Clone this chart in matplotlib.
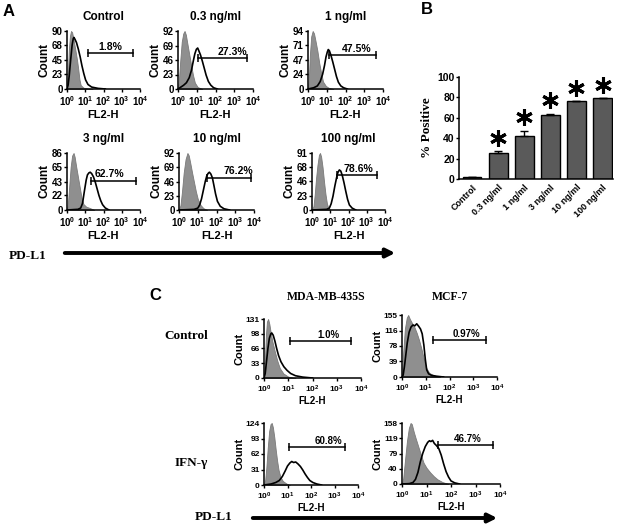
import numpy as np
import matplotlib
matplotlib.use('Agg')
import matplotlib.pyplot as plt
from matplotlib.ticker import NullLocator

plt.rcParams['font.family'] = 'Liberation Sans'
plt.rcParams['font.weight'] = 'bold'
plt.rcParams['mathtext.fontset'] = 'custom'
plt.rcParams['mathtext.rm'] = 'Liberation Sans:bold'
plt.rcParams['mathtext.bf'] = 'Liberation Sans:bold'
plt.rcParams['mathtext.it'] = 'Liberation Sans:bold'

# ---- data (x in log10 decades of FL2-H, y = count) ----
# A: IFN-gamma dose series
ctrl_gray_u = [0, 0.05, 0.1, 0.16, 0.22, 0.28, 0.35, 0.45, 0.55, 0.62, 0.68, 0.75, 0.9, 1.1, 1.4]
ctrl_gray_c = [0, 25, 60, 82, 90, 88, 78, 62, 45, 30, 15, 6, 2, 1, 0]
ctrl_black_u = [0, 0.06, 0.12, 0.2, 0.28, 0.34, 0.38, 0.44, 0.52, 0.62, 0.72, 0.82, 0.92, 1.02, 1.15, 1.35, 1.7, 2.1]
ctrl_black_c = [0, 6, 20, 45, 68, 78, 80, 77, 72, 62, 50, 36, 24, 14, 7, 3, 1, 0]

d03_gray_u = [0, 0.05, 0.12, 0.2, 0.28, 0.35, 0.42, 0.5, 0.6, 0.7, 0.8, 0.9, 1.05, 1.3]
d03_gray_c = [0, 15, 45, 75, 88, 92, 86, 72, 55, 38, 22, 10, 3, 0]
d03_black_u = [0, 0.15, 0.3, 0.45, 0.6, 0.72, 0.82, 0.9, 0.98, 1.05, 1.12, 1.2, 1.3, 1.4, 1.5, 1.62, 1.75, 1.9, 2.1]
d03_black_c = [0, 3, 6, 10, 18, 30, 45, 56, 63, 65, 60, 54, 44, 33, 22, 12, 6, 2, 0]

d1_gray_u = [0, 0.05, 0.1, 0.17, 0.25, 0.32, 0.4, 0.5, 0.6, 0.7, 0.8, 0.95, 1.1, 1.35]
d1_gray_c = [0, 20, 55, 85, 94, 90, 78, 62, 42, 26, 12, 5, 2, 0]
d1_black_u = [0, 0.3, 0.5, 0.65, 0.78, 0.88, 0.96, 1.03, 1.08, 1.14, 1.22, 1.32, 1.42, 1.52, 1.62, 1.75, 1.9, 2.1]
d1_black_c = [0, 2, 5, 12, 24, 38, 52, 60, 64, 62, 55, 44, 32, 20, 11, 5, 2, 0]

d3_gray_u = [0, 0.05, 0.12, 0.2, 0.28, 0.36, 0.42, 0.5, 0.6, 0.7, 0.8, 0.9, 1.05, 1.25, 1.5]
d3_gray_c = [0, 10, 35, 65, 82, 86, 80, 66, 50, 34, 18, 9, 5, 3, 0]
d3_black_u = [0, 0.6, 0.75, 0.85, 0.95, 1.05, 1.12, 1.2, 1.27, 1.35, 1.45, 1.55, 1.65, 1.75, 1.85, 1.95, 2.1, 2.3]
d3_black_c = [0, 1, 3, 10, 28, 45, 53, 56, 57, 55, 50, 42, 32, 22, 14, 8, 3, 0]

d10_gray_u = [0, 0.08, 0.16, 0.25, 0.35, 0.45, 0.52, 0.6, 0.7, 0.8, 0.9, 1.0, 1.15, 1.3, 1.5]
d10_gray_c = [0, 8, 30, 60, 82, 92, 88, 76, 60, 45, 30, 18, 8, 3, 0]
d10_black_u = [0, 0.8, 1.0, 1.1, 1.2, 1.3, 1.4, 1.48, 1.55, 1.62, 1.7, 1.78, 1.86, 1.95, 2.05, 2.2, 2.4, 2.7]
d10_black_c = [0, 1, 3, 8, 18, 32, 46, 55, 59, 61, 58, 52, 40, 26, 14, 6, 2, 0]

d100_gray_u = [0, 0.08, 0.15, 0.22, 0.3, 0.38, 0.44, 0.5, 0.58, 0.66, 0.74, 0.82, 0.9, 1.0]
d100_gray_c = [0, 6, 25, 50, 72, 88, 91, 85, 68, 45, 25, 10, 3, 0]
d100_black_u = [0, 0.8, 0.95, 1.05, 1.15, 1.25, 1.35, 1.42, 1.5, 1.58, 1.66, 1.75, 1.85, 1.95, 2.05, 2.2, 2.4]
d100_black_c = [0, 1, 3, 10, 22, 38, 52, 60, 64, 62, 55, 44, 30, 17, 8, 3, 0]

a_titles = ['Control', '0.3 ng/ml', '1 ng/ml', '3 ng/ml', '10 ng/ml', '100 ng/ml']
a_yticks = [[0, 23, 45, 68, 90], [0, 23, 46, 69, 92], [0, 24, 47, 71, 94],
            [0, 22, 43, 65, 86], [0, 23, 46, 69, 92], [0, 23, 46, 68, 91]]
a_pct = ['1.8%', '27.3%', '47.5%', '62.7%', '76.2%', '78.6%']
a_gate_u = [(1.17, 3.6), (1.05, 3.7), (1.1, 3.6), (1.3, 3.8), (1.5, 3.82), (1.35, 3.57)]
a_gate_y = [56, 49, 55, 44, 52, 56]
a_label_u = [2.35, 2.9, 2.6, 2.35, 3.15, 2.56]

# B: % positive
bar_labels = ['Control', '0.3 ng/ml', '1 ng/ml', '3 ng/ml', '10 ng/ml', '100 ng/ml']
bar_vals = [1.5, 25, 42.5, 63, 76, 79]
bar_err = [0.3, 2, 5, 1, 0.3, 0.5]
bar_star = [False, True, True, True, True, True]

# C: two cell lines
mda_ctrl_gray_u = [0, 0.04, 0.08, 0.12, 0.17, 0.22, 0.28, 0.35, 0.45, 0.55, 0.65, 0.8, 1.0, 1.3]
mda_ctrl_gray_c = [0, 40, 95, 125, 131, 120, 100, 80, 58, 38, 22, 10, 3, 0]
mda_ctrl_black_u = [0, 0.05, 0.1, 0.16, 0.22, 0.28, 0.32, 0.38, 0.45, 0.52, 0.6, 0.7, 0.82, 0.95, 1.1, 1.3, 1.6, 2.0]
mda_ctrl_black_c = [0, 10, 35, 65, 88, 98, 100, 95, 82, 66, 50, 36, 25, 17, 10, 5, 2, 0]

mcf_ctrl_gray_u = [0, 0.05, 0.12, 0.2, 0.26, 0.33, 0.42, 0.52, 0.62, 0.72, 0.82, 0.9, 1.0, 1.15, 1.35, 1.6]
mcf_ctrl_gray_c = [0, 60, 120, 148, 155, 145, 135, 125, 110, 92, 70, 50, 25, 10, 4, 0]
mcf_ctrl_black_u = [0, 0.05, 0.1, 0.16, 0.22, 0.3, 0.38, 0.46, 0.54, 0.62, 0.7, 0.78, 0.85, 0.92, 0.98, 1.04, 1.12, 1.25, 1.45, 1.75]
mcf_ctrl_black_c = [0, 5, 25, 55, 85, 112, 125, 130, 128, 133, 127, 120, 108, 80, 45, 18, 8, 4, 2, 0]

mda_ifn_gray_u = [0, 0.05, 0.1, 0.16, 0.22, 0.28, 0.33, 0.38, 0.44, 0.5, 0.56, 0.62, 0.7, 0.8, 0.95, 1.1]
mda_ifn_gray_c = [0, 10, 35, 75, 108, 122, 124, 115, 95, 70, 48, 30, 16, 8, 3, 0]
mda_ifn_black_u = [0, 0.3, 0.5, 0.65, 0.78, 0.9, 1.0, 1.1, 1.18, 1.26, 1.35, 1.45, 1.55, 1.65, 1.75, 1.85, 1.95, 2.08, 2.25, 2.45]
mda_ifn_black_c = [0, 2, 5, 9, 17, 28, 38, 44, 47, 45, 46, 42, 37, 30, 22, 15, 9, 5, 2, 0]

mcf_ifn_gray_u = [0, 0.05, 0.12, 0.2, 0.28, 0.35, 0.4, 0.48, 0.56, 0.65, 0.75, 0.88, 1.0, 1.15, 1.3, 1.45, 1.65, 1.9]
mcf_ifn_gray_c = [0, 15, 60, 110, 145, 158, 155, 135, 118, 100, 80, 55, 42, 30, 20, 12, 5, 0]
mcf_ifn_black_u = [0, 0.3, 0.45, 0.55, 0.65, 0.75, 0.85, 0.95, 1.05, 1.12, 1.18, 1.25, 1.32, 1.4, 1.5, 1.6, 1.7, 1.8, 1.9, 2.0, 2.15, 2.35]
mcf_ifn_black_c = [0, 1, 4, 12, 30, 58, 80, 97, 108, 112, 110, 113, 105, 100, 92, 75, 52, 32, 18, 8, 3, 0]

c_yticks = [[0, 33, 66, 98, 131], [0, 39, 78, 116, 155], [0, 31, 62, 93, 124], [0, 40, 79, 119, 158]]
c_pct = ['1.0%', '0.97%', '60.8%', '46.7%']
c_gate_u = [(1.08, 3.58), (1.31, 3.55), (1.08, 3.45), (1.45, 3.7)]
c_gate_y = [82, 92, 76, 101]
c_label_u = [2.67, 2.7, 2.75, 2.7]

W, H = 618, 525
fig = plt.figure(figsize=(W / 100, H / 100), dpi=100)
GRAY = '#8f8f8f'


def box(l, t, r, b):
    return [l / W, 1 - b / H, (r - l) / W, (b - t) / H]


def hist(rect, gu, gc, bu, bc, yt, gate, gy, lab_u, pct, fs):
    # fs = (tick, axis label, pct label, count label)
    ax = fig.add_axes(box(*rect))
    ax.fill_between(10 ** np.array(gu), gc, color=GRAY, lw=0.6, edgecolor='#7a7a7a')
    ax.plot(10 ** np.array(bu), bc, color='black', lw=1.2)
    ax.plot([10 ** gate[0], 10 ** gate[1]], [gy, gy], color='black', lw=1.1,
            marker='|', ms=6, mew=1.1)
    ax.annotate(pct, (10 ** lab_u, gy), xytext=(0, 1), textcoords='offset points',
                ha='center', va='bottom', fontsize=fs[2], fontweight='bold')
    ax.set_xscale('log')
    ax.set_xlim(1, 1e4)
    ax.set_ylim(0, yt[-1])
    ax.set_xticks([1, 10, 100, 1000, 1e4])
    ax.set_xticklabels([r'$10^{%d}$' % k for k in range(5)])
    ax.xaxis.set_minor_locator(NullLocator())
    ax.set_yticks(yt)
    ax.set_yticklabels([str(v) for v in yt])
    for s in ['top', 'right']:
        ax.spines[s].set_visible(False)
    for s in ['left', 'bottom']:
        ax.spines[s].set_linewidth(1.1)
    ax.tick_params(axis='y', labelsize=fs[0], length=2, width=1, pad=1)
    ax.tick_params(axis='x', labelsize=fs[0], length=2, width=1, pad=2)
    ax.set_xlabel('FL2-H', fontsize=fs[1], fontweight='bold', labelpad=1)
    ax.set_ylabel('Count', fontsize=fs[3], fontweight='bold', labelpad=1)
    return ax


# ---- Panel A ----
a_rects = [(67, 31, 140, 89), (178, 31, 253, 89), (308, 31, 383, 89),
           (67, 153, 140, 210), (179, 153, 254, 210), (312, 153, 385, 210)]
a_data = [(ctrl_gray_u, ctrl_gray_c, ctrl_black_u, ctrl_black_c),
          (d03_gray_u, d03_gray_c, d03_black_u, d03_black_c),
          (d1_gray_u, d1_gray_c, d1_black_u, d1_black_c),
          (d3_gray_u, d3_gray_c, d3_black_u, d3_black_c),
          (d10_gray_u, d10_gray_c, d10_black_u, d10_black_c),
          (d100_gray_u, d100_gray_c, d100_black_u, d100_black_c)]
for i in range(6):
    ax = hist(a_rects[i], *a_data[i], a_yticks[i], a_gate_u[i], a_gate_y[i],
              a_label_u[i], a_pct[i], (7, 8, 7.5, 8.5))
    ax.set_title(a_titles[i], fontsize=8.5, fontweight='bold', pad=8)

# ---- Panel B ----
axb = fig.add_axes(box(459, 77, 613, 179))
xb = np.arange(len(bar_labels))
axb.bar(xb, bar_vals, width=0.72, color='#5a5a5a', edgecolor='black', lw=1)
axb.errorbar(xb, bar_vals, yerr=[np.zeros(len(xb)), bar_err], fmt='none',
             ecolor='black', elinewidth=1, capsize=3, capthick=1)
for x, v, e, s in zip(xb, bar_vals, bar_err, bar_star):
    if s:
        axb.plot(x, v + e + 13, marker=(6, 2, 0), ms=12, mew=2.2, color='black', clip_on=False)
axb.set_xlim(-0.5, 5.4)
axb.set_ylim(0, 100)
axb.set_yticks([0, 20, 40, 60, 80, 100])
axb.set_xticks(xb)
axb.set_xticklabels(bar_labels, rotation=45, ha='right', rotation_mode='anchor', fontsize=6.5)
axb.tick_params(axis='y', labelsize=7.5, length=2, width=1, pad=1)
axb.tick_params(axis='x', length=0, pad=3)
for s in ['top', 'right']:
    axb.spines[s].set_visible(False)
for s in ['left', 'bottom']:
    axb.spines[s].set_linewidth(1.1)
axb.set_ylabel('% Positive', family='Liberation Serif', fontweight='bold', fontsize=9.5, labelpad=3)

# ---- Panel C ----
c_rects = [(264, 319, 361, 378), (402, 315, 497, 377), (264, 423, 358, 485), (402, 423, 500, 484)]
c_data = [(mda_ctrl_gray_u, mda_ctrl_gray_c, mda_ctrl_black_u, mda_ctrl_black_c),
          (mcf_ctrl_gray_u, mcf_ctrl_gray_c, mcf_ctrl_black_u, mcf_ctrl_black_c),
          (mda_ifn_gray_u, mda_ifn_gray_c, mda_ifn_black_u, mda_ifn_black_c),
          (mcf_ifn_gray_u, mcf_ifn_gray_c, mcf_ifn_black_u, mcf_ifn_black_c)]
for i in range(4):
    hist(c_rects[i], *c_data[i], c_yticks[i], c_gate_u[i], c_gate_y[i],
         c_label_u[i], c_pct[i], (6, 7, 7, 8))

# ---- labels and arrows ----
def ftext(x, y, s, **kw):
    fig.text(x / W, 1 - y / H, s, ha='center', va='center', **kw)

serif = dict(family='Liberation Serif', fontweight='bold')
ftext(9, 11, 'A', fontsize=12, fontweight='bold')
ftext(427, 9, 'B', fontsize=12, fontweight='bold')
ftext(155, 295, 'C', fontsize=12, fontweight='bold')
ftext(326, 297, 'MDA-MB-435S', fontsize=8.5, **serif)
ftext(450, 297, 'MCF-7', fontsize=8.5, **serif)
ftext(186, 336, 'Control', fontsize=9.5, **serif)
ftext(191, 463, 'IFN-\u03b3', fontsize=9.5, **serif)
ftext(28, 256, 'PD-L1', fontsize=9.5, **serif)
ftext(214, 517, 'PD-L1', fontsize=9.5, **serif)

for x0, x1, y in [(62, 398, 253), (250, 500, 518)]:
    fig.add_artist(matplotlib.patches.FancyArrowPatch(
        (x0 / W, 1 - y / H), (x1 / W, 1 - y / H), transform=fig.transFigure,
        arrowstyle='-|>', mutation_scale=13, lw=2.8, color='black'))

fig.savefig('out.png', dpi=100)
